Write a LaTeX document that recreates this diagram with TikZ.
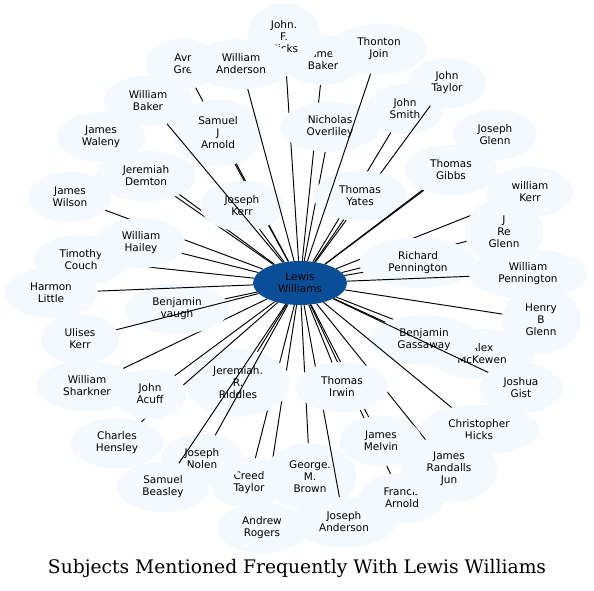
\documentclass[tikz,border=0pt]{standalone}
\usepackage{fontspec}
\setmainfont{DejaVu Sans}
\newfontfamily\titlefont{DejaVu Serif}
\usetikzlibrary{shapes.geometric}
\definecolor{nodefill}{RGB}{244,248,255}
\definecolor{hubfill}{RGB}{10,78,152}
\begin{document}
\begin{tikzpicture}[x=1pt,y=-1pt,
  person/.style={ellipse, fill=nodefill, align=center, font=\fontsize{10.5}{12}\selectfont, inner xsep=12pt, inner ysep=1pt, minimum height=50pt},
  three/.style={minimum height=67pt},
  link/.style={draw=black, line width=0.95pt}]
\useasboundingbox (0,0) rectangle (594,590);
\fill[white] (0,0) rectangle (594,590);
\node[ellipse, fill=hubfill, minimum width=94pt, minimum height=44pt, inner sep=0pt, align=center, font=\fontsize{10.5}{12}\selectfont] (c) at (300,283) {Lewis\\Williams};
% upper
\node[person] (jbaker) at (323,60) {James\\Baker}; \draw[link] (c) -- (jbaker);
\node[person,three] (hicks) at (284,37) {John.\\F.\\Hicks}; \draw[link] (c) -- (hicks);
\node[person, minimum width=76pt] (avr) at (183,64) {Avr\\Gre}; \draw[link] (c) -- (avr);
\node[person,three] (sarnold) at (218,133) {Samuel\\J\\Arnold}; \draw[link] (c) -- (sarnold);
\node[person] (waleny) at (101,137) {James\\Waleny}; \draw[link] (c) -- (waleny);
\node[person] (demton) at (146,176) {Jeremiah\\Demton}; \draw[link] (c) -- (demton);
\node[person] (jkerr) at (242,206) {Joseph\\Kerr}; \draw[link] (c) -- (jkerr);
\node[person] (wbaker) at (148,101) {William\\Baker}; \draw[link] (c) -- (wbaker);
\node[person] (anderson) at (241,64) {William\\Anderson}; \draw[link] (c) -- (anderson);
\node[person] (nicholas) at (330,127) {Nicholas\\Overliley}; \draw[link] (c) -- (nicholas);
\node[person] (jsmith) at (405,109) {John\\Smith}; \draw[link] (c) -- (jsmith);
\node[person] (jtaylor) at (447,83) {John\\Taylor}; \draw[link] (c) -- (jtaylor);
\node[person] (yates) at (360,196) {Thomas\\Yates}; \draw[link] (c) -- (yates);
\node[person] (thonton) at (379,49) {Thonton\\Join}; \draw[link] (c) -- (thonton);
% right
\node[person] (jglenn) at (495,135) {Joseph\\Glenn}; \draw[link] (c) -- (jglenn);
\node[person] (gibbs) at (451,170) {Thomas\\Gibbs}; \draw[link] (c) -- (gibbs);
\node[person] (wkerr) at (530,192) {william\\Kerr}; \draw[link] (c) -- (wkerr);
\node[person,three] (jreglenn) at (504,232) {J\\Re\\Glenn}; \draw[link] (c) -- (jreglenn);
\node[person] (rpenn) at (418,263) {Richard\\Pennington}; \draw[link] (c) -- (rpenn);
\node[person] (wpenn) at (528,274) {William\\Pennington}; \draw[link] (c) -- (wpenn);
\node[person,three] (hglenn) at (541,320) {Henry\\B\\Glenn}; \draw[link] (c) -- (hglenn);
\node[person] (alex) at (482,354) {Alex\\McKewen}; \draw[link] (c) -- (alex);
\node[person] (gassaway) at (424,340) {Benjamin\\Gassaway}; \draw[link] (c) -- (gassaway);
\node[person] (gist) at (521,388) {Joshua\\Gist}; \draw[link] (c) -- (gist);
\node[person] (chicks) at (479,430) {Christopher\\Hicks}; \draw[link] (c) -- (chicks);
% bottom
\node[person] (farnold) at (402,498) {Francis\\Arnold}; \draw[link] (c) -- (farnold);
\node[person,three] (randalls) at (449,469) {James\\Randalls\\Jun}; \draw[link] (c) -- (randalls);
\node[person] (melvin) at (381,441) {James\\Melvin}; \draw[link] (c) -- (melvin);
\node[person] (rogers) at (262,528) {Andrew\\Rogers}; \draw[link] (c) -- (rogers);
\node[person] (creed) at (249,483) {Creed\\Taylor}; \draw[link] (c) -- (creed);
\node[person,three] (brown) at (310,477) {George.\\M.\\Brown}; \draw[link] (c) -- (brown);
\node[person] (janderson) at (344,522) {Joseph\\Anderson}; \draw[link] (c) -- (janderson);
\node[person] (irwin) at (342,387) {Thomas\\Irwin}; \draw[link] (c) -- (irwin);
\node[person,three] (riddles) at (238,383) {Jeremiah.\\R.\\Riddles}; \draw[link] (c) -- (riddles);
\node[person] (nolen) at (202,459) {Joseph\\Nolen}; \draw[link] (c) -- (nolen);
\node[person] (beasley) at (163,487) {Samuel\\Beasley}; \draw[link] (c) -- (beasley);
% left
\node[person] (hensley) at (117,443) {Charles\\Hensley}; \draw[link] (c) -- (hensley);
\node[person] (acuff) at (150,394) {John\\Acuff}; \draw[link] (c) -- (acuff);
\node[person] (sharkner) at (87,386) {William\\Sharkner}; \draw[link] (c) -- (sharkner);
\node[person] (bvaugh) at (177,309) {Benjamin\\vaugh}; \draw[link] (c) -- (bvaugh);
\node[person] (ulises) at (80,339) {Ulises\\Kerr}; \draw[link] (c) -- (ulises);
\node[person] (harmon) at (51,293) {Harmon\\Little}; \draw[link] (c) -- (harmon);
\node[person] (couch) at (81,260) {Timothy\\Couch}; \draw[link] (c) -- (couch);
\node[person] (wilson) at (70,197) {James\\Wilson}; \draw[link] (c) -- (wilson);
\node[person] (hailey) at (141,243) {William\\Hailey}; \draw[link] (c) -- (hailey);
\node[font=\titlefont\fontsize{18.7}{22}\selectfont] (title) at (297,568) {Subjects Mentioned Frequently With Lewis Williams};
\end{tikzpicture}
\end{document}
